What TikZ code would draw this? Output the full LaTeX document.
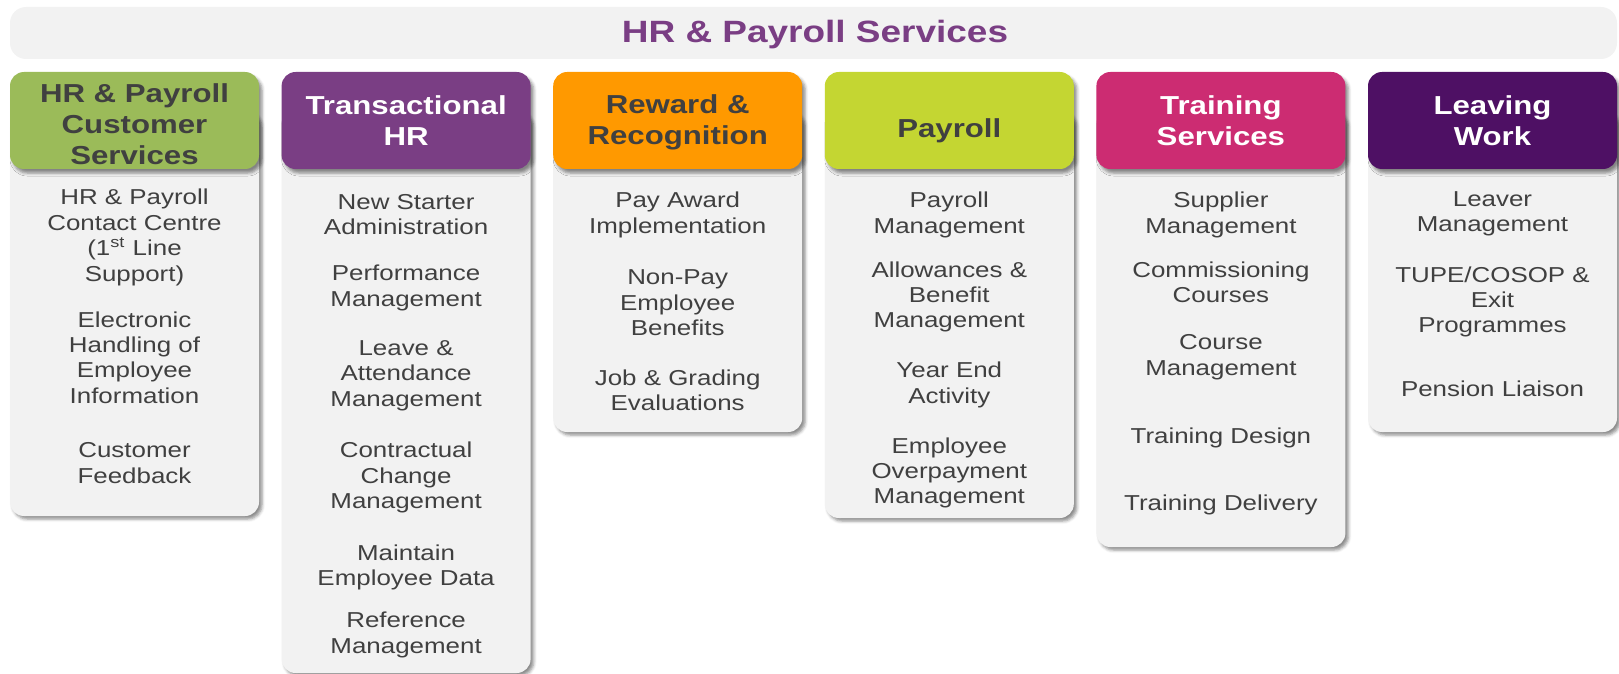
\documentclass[tikz,border=0pt]{standalone}
\usepackage{fontspec}
\setmainfont{Liberation Sans}[FakeStretch=1.2]
\usetikzlibrary{positioning,shadows.blur}
\definecolor{hrGreen}{RGB}{155,187,89}
\definecolor{hrPurple}{RGB}{122,62,132}
\definecolor{hrOrange}{RGB}{255,153,0}
\definecolor{hrLime}{RGB}{196,214,50}
\definecolor{hrPink}{RGB}{204,44,114}
\definecolor{hrPlum}{RGB}{78,16,100}
\definecolor{hrText}{RGB}{64,64,64}
\definecolor{hrBody}{RGB}{242,242,242}

\begin{document}
\begin{tikzpicture}[x=0.5pt, y=-0.5pt,
  bodybox/.style={fill=hrBody, rounded corners=7pt,
    blur shadow={shadow xshift=1.5pt, shadow yshift=-1.5pt, shadow blur radius=1.5pt, shadow opacity=45}},
  head/.style={rounded corners=7pt, minimum width=124.5pt, minimum height=48.5pt, inner sep=0pt,
    blur shadow={shadow xshift=1.5pt, shadow yshift=-2pt, shadow blur radius=1.5pt, shadow opacity=45}},
  headtext/.style={align=center, inner sep=0pt, font=\fontsize{13}{15.5}\selectfont\bfseries},
  item/.style={align=center, text=hrText, inner sep=0pt, font=\fontsize{10.8}{12.7}\selectfont}]
% 1 unit = 1 px of the 1619x674 frame, y grows downwards
\useasboundingbox (0,0) rectangle (1619,674);
\def\colx#1{10+271.6*#1}
% column centres
\def\cA{134.5}\def\cB{406.1}\def\cC{677.7}\def\cD{949.3}\def\cE{1220.9}\def\cF{1492.5}
% title bar
\node[fill=hrBody, rounded corners=8pt, minimum width=803.5pt, minimum height=26pt] (title) at (813.5,33) {};
\node[text=hrPurple, font=\fontsize{15.4}{18}\selectfont\bfseries] (titletext) at (815,35) {HR \& Payroll Services};
% grey bodies (top hidden under the headers)
\foreach \i/\bot in {0/516, 1/673, 2/432, 3/518, 4/547, 5/432}
  \fill[bodybox] ({\colx{\i}},110) rectangle ({\colx{\i}+249},\bot);
% coloured header boxes
\foreach \i/\clr in {0/hrGreen, 1/hrPurple, 2/hrOrange, 3/hrLime, 4/hrPink, 5/hrPlum}
  \node[head, fill=\clr] (hd\i) at ({\colx{\i}+124.5},120.5) {};
% header texts
\node[headtext, text=hrText] (hdCust) at (\cA,124.5) {HR \& Payroll\\Customer\\Services};
\node[headtext, text=white] (hdTrans) at (\cB,120.5) {Transactional\\HR};
\node[headtext, text=hrText] (hdReward) at (\cC,122.5) {Reward \&\\Recognition};
\node[headtext, text=hrText] (hdPay) at (\cD,130.5) {Payroll};
\node[headtext, text=white] (hdTrain) at (\cE,120.5) {Training\\Services};
\node[headtext, text=white] (hdLeave) at (\cF,120.5) {Leaving\\Work};
% HR & Payroll Customer Services
\node[item] (custA) at (\cA,237.5) {HR \& Payroll\\Contact Centre\\(1\textsuperscript{st} Line\\Support)};
\node[item] (custB) at (\cA,357.5) {Electronic\\Handling of\\Employee\\Information};
\node[item] (custC) at (\cA,463) {Customer\\Feedback};
% Transactional HR
\node[item] (transA) at (\cB,214.5) {New Starter\\Administration};
\node[item] (transB) at (\cB,288) {Performance\\Management};
\node[item] (transC) at (\cB,375.5) {Leave \&\\Attendance\\Management};
\node[item] (transD) at (\cB,477.5) {Contractual\\Change\\Management};
\node[item] (transE) at (\cB,567.5) {Maintain\\Employee Data};
\node[item] (transF) at (\cB,635) {Reference\\Management};
% Reward & Recognition
\node[item] (rewA) at (\cC,215) {Pay Award\\Implementation};
\node[item] (rewB) at (\cC,303) {Non-Pay\\Employee\\Benefits};
\node[item] (rewC) at (\cC,390) {Job \& Grading\\Evaluations};
% Payroll
\node[item] (payA) at (\cD,215) {Payroll\\Management};
\node[item] (payB) at (\cD,297) {Allowances \&\\Benefit\\Management};
\node[item] (payC) at (\cD,385) {Year End\\Activity};
\node[item] (payD) at (\cD,473) {Employee\\Overpayment\\Management};
% Training Services
\node[item] (trainA) at (\cE,215) {Supplier\\Management};
\node[item] (trainB) at (\cE,282) {Commissioning\\Courses};
\node[item] (trainC) at (\cE,357) {Course\\Management};
\node[item] (trainD) at (\cE,438) {Training Design};
\node[item] (trainE) at (\cE,505) {Training Delivery};
% Leaving Work
\node[item] (leaveA) at (\cF,214) {Leaver\\Management};
\node[item] (leaveB) at (\cF,302) {TUPE/COSOP \&\\Exit\\Programmes};
\node[item] (leaveC) at (\cF,388.5) {Pension Liaison};
\end{tikzpicture}
\end{document}
